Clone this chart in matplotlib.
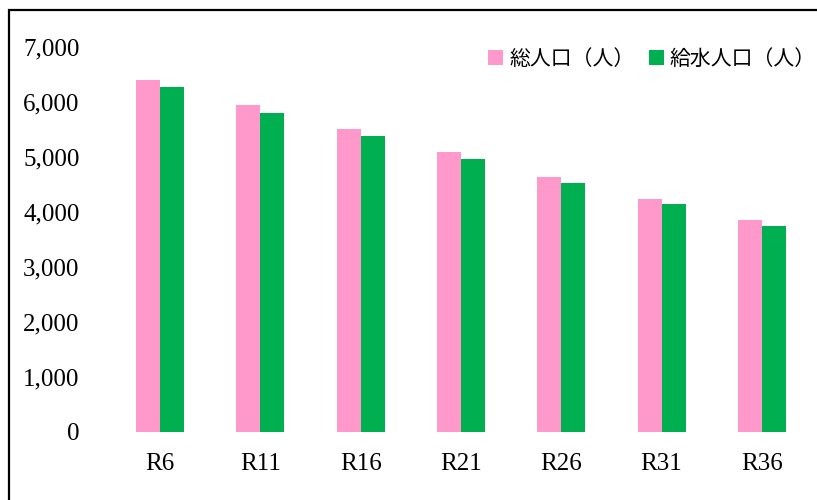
# 総人口と給水人口の見通し (R6 - R36)
import numpy as np
import matplotlib
matplotlib.use("Agg")
import matplotlib.pyplot as plt
from matplotlib.patches import Rectangle

# data
years = ["R6", "R11", "R16", "R21", "R26", "R31", "R36"]
total_pop = [6400, 5945, 5510, 5090, 4630, 4240, 3850]    # 総人口(人)
served_pop = [6270, 5795, 5375, 4965, 4520, 4140, 3745]   # 給水人口(人)

pink = "#FF99CC"
green = "#00B050"

plt.rcParams["font.family"] = ["Liberation Serif", "Noto Sans CJK JP"]

fig = plt.figure(figsize=(8.17, 5.00), dpi=100)
ax = fig.add_axes([110 / 817, 68 / 500, 702 / 817, 385 / 500])

x = np.arange(len(years))
w = 0.24
ax.bar(x - w / 2, total_pop, w, color=pink, label="総人口（人）")
ax.bar(x + w / 2, served_pop, w, color=green, label="給水人口（人）")

ax.set_xlim(-0.5, len(years) - 0.5)
ax.set_ylim(0, 7000)
ax.set_yticks(range(0, 7001, 1000))
ax.yaxis.set_major_formatter(matplotlib.ticker.StrMethodFormatter("{x:,.0f}"))
ax.set_xticks(x)
ax.set_xticklabels(years)
ax.tick_params(axis="y", length=0, pad=22, labelsize=18)
ax.tick_params(axis="x", length=0, pad=15, labelsize=18)
for s in ax.spines.values():
    s.set_visible(False)

ax.legend(loc="center right", bbox_to_anchor=(816 / 817, 1 - 60 / 500),
          bbox_transform=fig.transFigure, ncol=2, frameon=False,
          fontsize=15, handlelength=0.7, handleheight=0.7,
          handletextpad=0.3, columnspacing=0.7, borderpad=0, borderaxespad=0)

# outer border of the chart area (cut off at right and bottom)
fig.add_artist(Rectangle((9 / 817, -0.1), 1.0, 0.1 + 490 / 500,
                         transform=fig.transFigure, fill=False,
                         edgecolor="black", linewidth=1.6, clip_on=False))

plt.savefig("out.png")
